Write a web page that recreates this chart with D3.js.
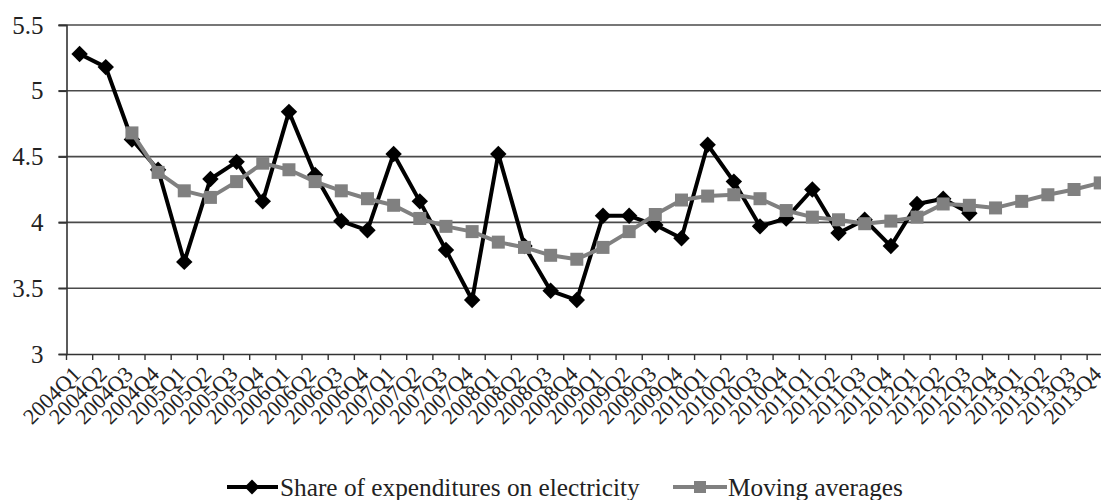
<!DOCTYPE html>
<html>
<head>
<meta charset="utf-8">
<script src="https://cdn.jsdelivr.net/npm/d3@7"></script>
<style>
  html, body { margin: 0; padding: 0; background: #fff; }
  svg { display: block; }
  svg text { font-family: "Liberation Serif", "Times New Roman", serif; }
</style>
</head>
<body>
<svg id="chart" width="1101" height="500"></svg>
<script>
const quarters = [
  "2004Q1","2004Q2","2004Q3","2004Q4","2005Q1","2005Q2","2005Q3","2005Q4",
  "2006Q1","2006Q2","2006Q3","2006Q4","2007Q1","2007Q2","2007Q3","2007Q4",
  "2008Q1","2008Q2","2008Q3","2008Q4","2009Q1","2009Q2","2009Q3","2009Q4",
  "2010Q1","2010Q2","2010Q3","2010Q4","2011Q1","2011Q2","2011Q3","2011Q4",
  "2012Q1","2012Q2","2012Q3","2012Q4","2013Q1","2013Q2","2013Q3","2013Q4"
];
const shareValues = [
  5.28, 5.18, 4.63, 4.40, 3.70, 4.33, 4.46, 4.16,
  4.84, 4.36, 4.01, 3.94, 4.52, 4.16, 3.79, 3.41,
  4.52, 3.82, 3.48, 3.41, 4.05, 4.05, 3.98, 3.88,
  4.59, 4.31, 3.97, 4.03, 4.25, 3.92, 4.02, 3.82,
  4.14, 4.18, 4.07, null, null, null, null, null
];
const movingAvg = [
  null, null, 4.68, 4.38, 4.24, 4.19, 4.31, 4.45,
  4.40, 4.31, 4.24, 4.18, 4.13, 4.03, 3.97, 3.93,
  3.85, 3.81, 3.75, 3.72, 3.81, 3.93, 4.06, 4.17,
  4.20, 4.21, 4.18, 4.09, 4.04, 4.02, 3.99, 4.01,
  4.04, 4.14, 4.13, 4.11, 4.16, 4.21, 4.25, 4.30
];
const yTicks = [3, 3.5, 4, 4.5, 5, 5.5];
const seriesNames = ["Share of expenditures on electricity", "Moving averages"];

const svg = d3.select("#chart");
const plotLeft = 66.5, plotTop = 25, plotBottom = 354;
const step = 26.17;
const x = d3.scaleBand().domain(quarters).range([plotLeft, plotLeft + step * quarters.length]).padding(0);
const y = d3.scaleLinear().domain([3, 5.5]).range([plotBottom, plotTop]);
const cx = q => x(q) + x.bandwidth() / 2;

// gridlines
svg.append("g").selectAll("line").data(yTicks.filter(t => t !== 3)).join("line")
  .attr("x1", plotLeft - 8).attr("x2", 1101)
  .attr("y1", d => y(d)).attr("y2", d => y(d))
  .attr("stroke", "#4a4a4a").attr("stroke-width", 1.6);

// y axis
const yAxis = svg.append("g").attr("transform", `translate(${plotLeft},0)`)
  .call(d3.axisLeft(y).tickValues(yTicks).tickSize(8).tickPadding(15)
    .tickFormat(d => String(d)));
yAxis.attr("font-family", null);
yAxis.select(".domain").attr("stroke", "#333").attr("stroke-width", 1.6);
yAxis.selectAll(".tick line").attr("stroke", "#333").attr("stroke-width", 1.6);
yAxis.selectAll("text").attr("font-size", 25).attr("fill", "#222");

// x axis
const xAxis = svg.append("g").attr("transform", `translate(0,${plotBottom})`)
  .call(d3.axisBottom(x).tickSize(0).tickFormat(d => d));
xAxis.attr("font-family", null);
xAxis.select(".domain").attr("stroke", "#333").attr("stroke-width", 1.6);
xAxis.selectAll(".tick line").remove();
// band boundary ticks
svg.append("g").selectAll("line").data(quarters).join("line")
  .attr("x1", d => x(d)).attr("x2", d => x(d))
  .attr("y1", plotBottom).attr("y2", plotBottom + 6)
  .attr("stroke", "#333").attr("stroke-width", 1.4);
xAxis.selectAll("text")
  .attr("font-size", 22).attr("fill", "#222")
  .attr("text-anchor", "end")
  .attr("transform", "translate(-3,16) rotate(-45)")
  .attr("dy", "0.35em").attr("y", 0).attr("x", 0);

// lines
const lineGen = d3.line().defined(d => d.v != null).x(d => cx(d.q)).y(d => y(d.v));
const shareData = quarters.map((q, i) => ({q, v: shareValues[i]}));
const maData = quarters.map((q, i) => ({q, v: movingAvg[i]}));

svg.append("path").datum(shareData).attr("d", lineGen)
  .attr("fill", "none").attr("stroke", "#000").attr("stroke-width", 4).attr("stroke-linejoin", "round");
const diamond = d3.symbol().type(d3.symbolSquare).size(135);
svg.append("g").selectAll("path").data(shareData.filter(d => d.v != null)).join("path")
  .attr("d", diamond).attr("transform", d => `translate(${cx(d.q)},${y(d.v)}) rotate(45)`)
  .attr("fill", "#000");

svg.append("path").datum(maData).attr("d", lineGen)
  .attr("fill", "none").attr("stroke", "#808080").attr("stroke-width", 4).attr("stroke-linejoin", "round");
svg.append("g").selectAll("rect").data(maData.filter(d => d.v != null)).join("rect")
  .attr("x", d => cx(d.q) - 6.5).attr("y", d => y(d.v) - 6.5)
  .attr("width", 13).attr("height", 13).attr("fill", "#808080");

// legend
const leg = svg.append("g");
const ly = 487;
leg.append("line").attr("x1", 227).attr("x2", 278).attr("y1", ly).attr("y2", ly)
  .attr("stroke", "#000").attr("stroke-width", 4);
leg.append("path").attr("d", d3.symbol().type(d3.symbolSquare).size(110))
  .attr("transform", `translate(252,${ly}) rotate(45)`).attr("fill", "#000");
leg.append("text").attr("x", 280).attr("y", ly).attr("dy", "0.35em")
  .attr("font-size", 25.3).attr("fill", "#222").text(seriesNames[0]);
leg.append("line").attr("x1", 673).attr("x2", 727).attr("y1", ly).attr("y2", ly)
  .attr("stroke", "#808080").attr("stroke-width", 4);
leg.append("rect").attr("x", 694).attr("y", ly - 6).attr("width", 12).attr("height", 12).attr("fill", "#808080");
leg.append("text").attr("x", 728).attr("y", ly).attr("dy", "0.35em")
  .attr("font-size", 25.3).attr("fill", "#222").text(seriesNames[1]);
</script>
</body>
</html>
